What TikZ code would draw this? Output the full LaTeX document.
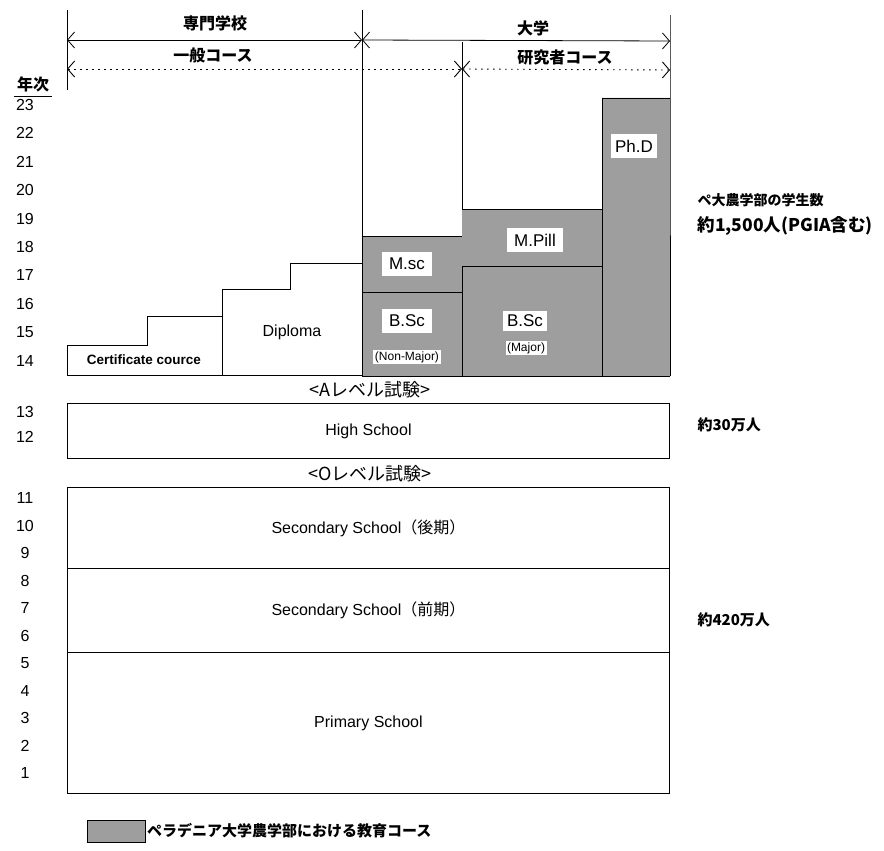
\documentclass[tikz,border=0pt]{standalone}
\usepackage{fontspec}
\setmainfont{Liberation Sans}
\newfontfamily\jp{Noto Sans CJK JP}
\usetikzlibrary{arrows.meta}
\tikzset{
  frame/.style={draw=black, line width=0.9pt},
  shade/.style={fill=black!38},
  lab/.style={fill=white, inner xsep=7pt, inner ysep=6pt, font=\fontsize{17}{19}\selectfont},
  smalllab/.style={fill=white, inner sep=1.5pt, font=\fontsize{12}{14}\selectfont},
  boxtxt/.style={font=\fontsize{16}{18}\selectfont},
  yr/.style={font=\fontsize{16}{18}\selectfont},
  head/.style={font=\jp\bfseries\fontsize{16}{18}\selectfont},
  side/.style={anchor=west, font=\jp\bfseries\fontsize{14}{16}\selectfont},
  barb/.style={{Straight Barb[length=7pt,width=16pt]}-{Straight Barb[length=7pt,width=16pt]}, line width=0.8pt},
  dotline/.style={dash pattern=on 1.5pt off 4.5pt, line width=0.9pt}
}
\begin{document}
\begin{tikzpicture}[x=1pt,y=-1pt]
\useasboundingbox (0,0) rectangle (884,851);
% ---- column markers (vertical lines) ----
\coordinate (vA1) at (67,10);   \coordinate (vA2) at (67,90);
\coordinate (vB1) at (362,10);  \coordinate (vB2) at (362,376);
\coordinate (vC1) at (462,42);  \coordinate (vC2) at (462,209);
\coordinate (vD1) at (670,15);  \coordinate (vD2) at (670,98);
% ---- shaded university area ----
\path[shade] (362,376) -- (362,236) -- (462,236) -- (462,209) -- (602,209) -- (602,98) -- (670,98) -- (670,376) -- cycle;
% ---- lines of the university area ----
\draw[frame] (vB1) -- (vB2);
\draw[frame] (vC1) -- (vC2);
\draw[frame] (vD1) -- (vD2) -- (670,376);
\draw[frame] (362,236) -- (462,236);
\draw[frame] (362,292) -- (462,292);
\draw[frame] (462,209) -- (602,209);
\draw[frame] (462,266) -- (602,266);
\draw[frame] (462,266) -- (462,376);
\draw[frame] (602,98) -- (670,98);
\draw[frame] (602,98) -- (602,376);
\draw[frame] (362,376) -- (670,376);
\draw[frame] (vA1) -- (vA2);
% ---- staircase: certificate and diploma ----
\draw[frame] (362,263) -- (290,263) -- (290,289) -- (222,289) -- (222,316) -- (147,316) -- (147,345) -- (67,345) -- (67,375) -- (362,375);
\draw[frame] (222,289) -- (222,375);
\node[font=\bfseries\fontsize{13.5}{15}\selectfont] (cert) at (144,360) {Certificate cource};
\node[boxtxt] (dipl) at (292,332) {Diploma};
% ---- labels in the university area ----
\node[lab] (msc) at (407,264) {M.sc};
\node[lab] (bsc1) at (407,321) {B.Sc};
\node[smalllab] (nonmaj) at (407,357) {(Non-Major)};
\node[lab] (mpill) at (535,240) {M.Pill};
\node[lab, inner xsep=4pt, inner ysep=4pt] (bsc2) at (525,321) {B.Sc};
\node[smalllab] (maj) at (526,348) {(Major)};
\node[lab, inner xsep=4pt] (phd) at (634,146) {Ph.D};
% ---- top headings and course arrows ----
\node[head] (senmon) at (215,23) {専門学校};
\node[head] (daigaku) at (533,28) {大学};
\node[head] (ippan) at (213,55) {一般コース};
\node[head] (kenkyu) at (565,57) {研究者コース};
\coordinate (s1) at (67,40); \coordinate (s2) at (362,40); \coordinate (s3) at (670,41);
\coordinate (d1) at (67,69); \coordinate (d2) at (462,69); \coordinate (d3) at (670,70);
\draw[barb] (s1) -- (s2);
\draw[barb] (s2) -- (s3);
\draw[barb, dotline] (d1) -- (d2);
\draw[barb, dotline] (d2) -- (d3);
% ---- exams and school boxes ----
\node[font=\jp\fontsize{18}{20}\selectfont] (alevel) at (370,390) {<Aレベル試験>};
\node[frame, minimum width=602pt, minimum height=55pt, anchor=north west, inner sep=0pt] (hs) at (67,403) {};
\node[boxtxt] (hstxt) at (hs.center) {High School};
\node[font=\jp\fontsize{18}{20}\selectfont] (olevel) at (370,474) {<Oレベル試験>};
\node[frame, minimum width=602pt, minimum height=81pt, anchor=north west, inner sep=0pt] (sec2) at (67,487) {};
\node[frame, minimum width=602pt, minimum height=84pt, anchor=north west, inner sep=0pt] (sec1) at (67,568) {};
\node[frame, minimum width=602pt, minimum height=141pt, anchor=north west, inner sep=0pt] (prim) at (67,652) {};
\node[boxtxt] (sec2txt) at (sec2.center) {Secondary School{\jp（後期）}};
\node[boxtxt] (sec1txt) at (sec1.center) {Secondary School{\jp（前期）}};
\node[boxtxt] (primtxt) at (prim.center) {Primary School};
% ---- year axis ----
\node[head] (nenji) at (33,84) {年次};
\draw[line width=0.8pt] ([xshift=1pt,yshift=-1pt]nenji.south west) -- ([xshift=-1pt,yshift=-1pt]nenji.south east);
\foreach \n [count=\i from 0] in {23,22,21,20,19,18,17,16,15,14} {
  \node[yr] (y\n) at (25,{105+28.4*\i}) {\n};
}
\node[yr] (y13) at (25,412) {13};
\node[yr] (y12) at (25,437) {12};
\foreach \n [count=\i from 0] in {11,10,9,8,7,6,5,4,3,2,1} {
  \node[yr] (y\n) at (25,{498+27.5*\i}) {\n};
}
% ---- student numbers ----
\node[side] (stud1) at (694,200) {ペ大農学部の学生数};
\node[side, font=\jp\bfseries\fontsize{17.5}{19}\selectfont] (stud2) at (694,226) {約1,500人(PGIA含む)};
\node[side, font=\jp\bfseries\fontsize{15}{17}\selectfont] (stud3) at (694,425) {約30万人};
\node[side, font=\jp\bfseries\fontsize{15}{17}\selectfont] (stud4) at (694,620) {約420万人};
% ---- legend ----
\node[draw, shade, minimum width=58pt, minimum height=22pt, anchor=east, inner sep=0pt] (legbox) at (145,831) {};
\node[anchor=west, font=\jp\bfseries\fontsize{15}{17}\selectfont, inner sep=2pt] (legtxt) at (legbox.east) {ペラデニア大学農学部における教育コース};
\end{tikzpicture}
\end{document}
